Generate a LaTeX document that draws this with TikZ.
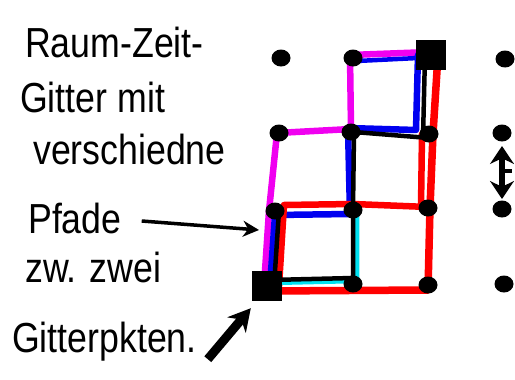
\documentclass[tikz,border=0pt]{standalone}
\usepackage{fontspec}
\setmainfont{Liberation Sans}
\usetikzlibrary{arrows.meta,positioning,calc,shapes.geometric}
\definecolor{pfadmagenta}{HTML}{F000F0}
\definecolor{pfadblau}{HTML}{0000F0}
\definecolor{pfadrot}{HTML}{FF0000}
\definecolor{pfadcyan}{HTML}{00E0F0}
\newcommand{\hand}[1]{\scalebox{0.85}[1]{#1}}

\begin{document}
\begin{tikzpicture}[
  x=1pt, y=-1pt,
  >=Stealth,
  gitterpkt/.style={
    ellipse,
    fill=black,
    minimum width=19pt,
    minimum height=17pt,
    inner sep=0pt
  },
  eckpkt/.style={
    rectangle,
    fill=black,
    minimum size=30pt,
    inner sep=0pt
  },
  notiz/.style={
    anchor=base west,
    inner sep=0pt,
    font=\fontsize{42pt}{46pt}\selectfont
  },
  pfad/.style={
    line width=6.5pt,
    line join=round,
    line cap=round
  }
]

  \useasboundingbox (0,0) rectangle (515,380);

  % Gitterpunkte: Spalten c1..c4, Zeilen r1..r4
  \coordinate (p11) at (281,58);  \coordinate (p21) at (353,58);
  \coordinate (p31) at (431,55);  \coordinate (p41) at (505,59);
  \coordinate (p12) at (279,133); \coordinate (p22) at (351,132);
  \coordinate (p32) at (429,134); \coordinate (p42) at (502,133);
  \coordinate (p13) at (275,211); \coordinate (p23) at (353,210);
  \coordinate (p33) at (428,208); \coordinate (p43) at (502,209);
  \coordinate (p14) at (270,286); \coordinate (p24) at (353,284);
  \coordinate (p34) at (428,285); \coordinate (p44) at (504,284);

  % --- Pfade zwischen den beiden Eckpunkten ---
  \draw[pfad, pfadmagenta] ([xshift=-6pt]p14) -- ([xshift=-6pt]p13) -- ([xshift=-2pt]p12)
    -- ([yshift=3pt]p22) -- ([xshift=-3pt,yshift=3pt]p21) -- ([yshift=3pt]p31);
  \draw[pfad, pfadblau, line width=4.5pt] ([xshift=4pt,yshift=-3pt]p21) -- ([xshift=-13pt,yshift=-3pt]p31);
  \draw[pfad, pfadblau] ([xshift=0pt]p14) -- ([xshift=0pt,yshift=-4pt]p13) -- ([xshift=-3pt,yshift=-4pt]p23)
    -- ([xshift=-3pt,yshift=4pt]p22) -- ([xshift=-13pt,yshift=4pt]p32) -- ([xshift=-13pt]p31);
  \draw[pfad, pfadrot, line width=7.5pt] ([yshift=-5pt]p14) -- ([yshift=-5pt]p34) -- ([xshift=2pt]p33)
    -- ([xshift=4pt]p32) -- ([xshift=7pt]p31);
  \draw[pfad, pfadrot] ([xshift=9pt]p14) -- ([xshift=9pt,yshift=6pt]p13) -- ([yshift=6pt]p23)
    -- ([yshift=1pt]p33) -- ([xshift=-7pt]p33) -- ([xshift=-7pt]p32);
  \draw[pfad, pfadcyan, line width=4.5pt] ([yshift=3pt]p14) -- ([xshift=4pt,yshift=3pt]p24) -- ([xshift=4pt]p23);
  \draw[pfad, black, line width=4.5pt] ([xshift=4pt]p14) -- ([xshift=4pt]p13);
  \draw[pfad, black, line width=4.5pt] ([yshift=6pt]p14) -- ([yshift=6pt]p24) -- (p23) -- ([xshift=3pt]p22)
    -- ([yshift=-4pt]p32) -- ([xshift=-6pt,yshift=-4pt]p32) -- ([xshift=-6pt]p31);

  % Punkte darueber
  \foreach \p in {p11,p21,p41,p12,p22,p32,p42,p13,p23,p33,p43,p24,p34,p44}
    \node[gitterpkt] (n\p) at (\p) {};
  \node[eckpkt] (ecke) at (p31) {};
  \node[eckpkt] (start) at ([xshift=-3pt]p14) {};

  % Zeitschritt zwischen zwei Zeilen
  \coordinate (dt1) at ($(p42)+(0,13)$);
  \coordinate (dt2) at ($(p43)+(0,-10)$);
  \draw[line width=6pt, {Stealth[length=18pt,width=24pt]}-{Stealth[length=18pt,width=24pt]}]
    (dt1) -- (dt2);
  \draw[line width=4pt] ($(dt1)!0.47!(dt2)$) -- ++(10,0);

  % --- Beschriftung links ---
  \node[notiz] (t1) at (25,57)  {\hand{Raum-Zeit-}};
  \node[notiz] (t2) at (20,112) {\hand{Gitter mit}};
  \node[notiz] (t3) at (33,164) {\hand{verschiedne}};
  \node[notiz] (t4) at (28,233) {\hand{Pfade}};
  \node[notiz] (t5) at (25,282) {\hand{zw. zwei}};
  \node[notiz] (t6) at (12,352) {\hand{Gitterpkten.}};

  \draw[line width=3.5pt, -{Stealth[length=16pt,width=16pt]}]
    ([xshift=20pt,yshift=12pt]t4.base east) -- ([xshift=-16pt,yshift=-19pt]p13);
  \draw[line width=9pt, -{Stealth[length=22pt,width=24pt]}]
    ([xshift=-44pt,yshift=-58pt]start.south west) -- ([xshift=-1pt,yshift=-7pt]start.south west);

\end{tikzpicture}
\end{document}
